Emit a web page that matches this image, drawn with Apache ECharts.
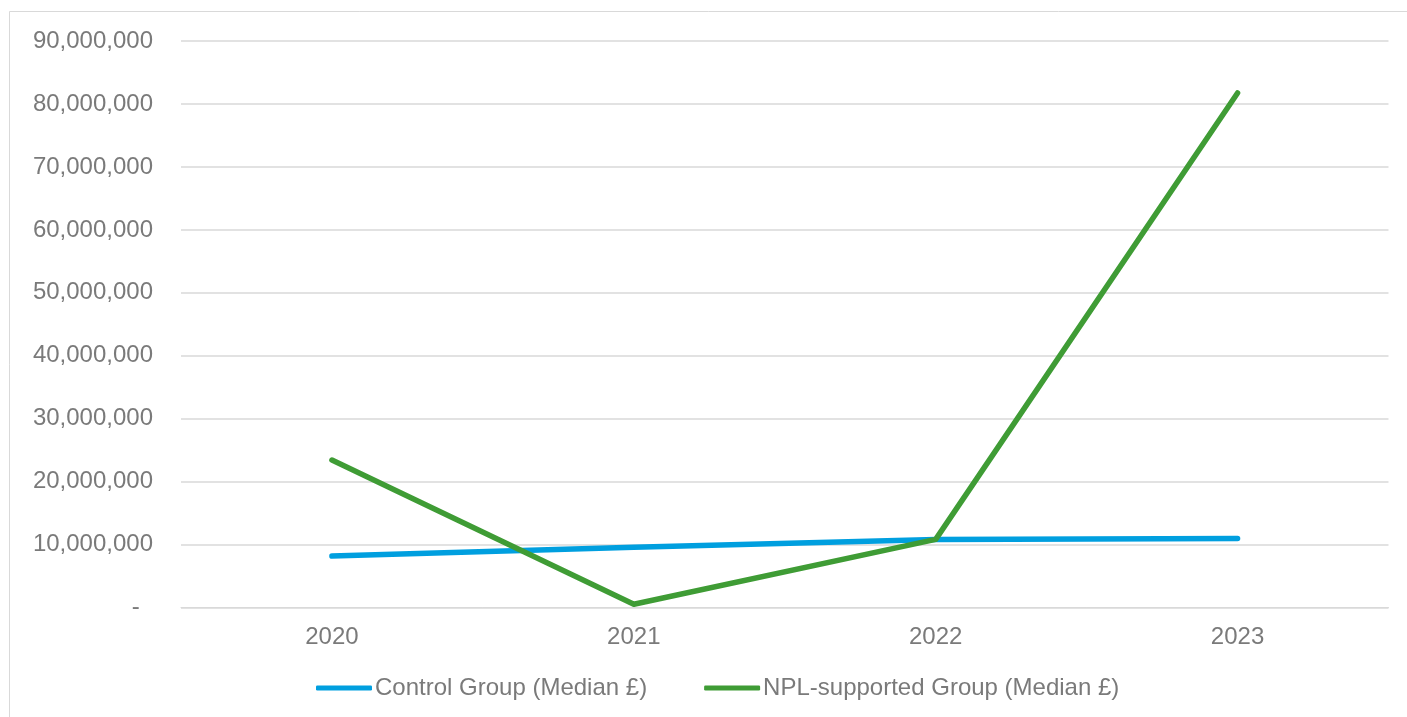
<!DOCTYPE html>
<html>
<head>
<meta charset="utf-8">
<title>Median £ by year</title>
<script src="https://cdn.jsdelivr.net/npm/echarts@6/dist/echarts.min.js"></script>
<style>
  html, body { margin: 0; padding: 0; background: #ffffff; }
  #chart { width: 1407px; height: 717px; }
</style>
</head>
<body>
<div id="chart"></div>
<script>
// Years on the category axis
const years = ['2020', '2021', '2022', '2023'];

// Median values (£) per group
const controlGroup = [8200000, 9600000, 10850000, 10980000];
const nplGroup = [23450000, 550000, 10850000, 81750000];

// Series names shown in the legend
const seriesNames = ['Control Group (Median £)', 'NPL-supported Group (Median £)'];

const FONT = "'Liberation Sans', Arial, sans-serif";
const TEXT_COLOR = '#7a7a7a';
const GRID_COLOR = '#d9d9d9';

function formatThousands(v) {
  if (v === 0) return '-  ';
  return String(v).replace(/\B(?=(\d{3})+(?!\d))/g, ',');
}

const chart = echarts.init(document.getElementById('chart'), null, { renderer: 'canvas' });

chart.setOption({
  animation: false,
  backgroundColor: '#ffffff',
  graphic: [{
    type: 'rect',
    shape: { x: 9.5, y: 11.5, width: 1420, height: 720 },
    style: { fill: 'none', stroke: GRID_COLOR, lineWidth: 1 },
    silent: true,
    z: -1
  }],
  grid: { left: 181, right: 18.5, top: 41, bottom: 109.3, containLabel: false },
  legend: {
    left: 316,
    top: 676,
    padding: 0,
    itemWidth: 56,
    itemHeight: 5,
    itemGap: 57,
    textStyle: { fontFamily: FONT, fontSize: 24, color: TEXT_COLOR, padding: [0, 0, 0, -2] },
    data: seriesNames.map(n => ({ name: n, icon: 'roundRect' }))
  },
  xAxis: {
    type: 'category',
    data: years,
    boundaryGap: true,
    axisLine: { show: true, lineStyle: { color: GRID_COLOR, width: 1 } },
    axisTick: { show: false },
    axisLabel: { fontFamily: FONT, fontSize: 24, color: TEXT_COLOR, margin: 18 },
    splitLine: { show: false }
  },
  yAxis: {
    type: 'value',
    min: 0,
    max: 90000000,
    interval: 10000000,
    axisLine: { show: false },
    axisTick: { show: false },
    axisLabel: {
      fontFamily: FONT, fontSize: 24, color: TEXT_COLOR, margin: 28,
      formatter: formatThousands
    },
    splitLine: { show: true, lineStyle: { color: GRID_COLOR, width: 1.5 } }
  },
  series: [
    {
      name: seriesNames[0],
      type: 'line',
      data: controlGroup,
      symbol: 'none',
      lineStyle: { color: '#009fdf', width: 5.5, cap: 'round', join: 'round' },
      itemStyle: { color: '#009fdf' }
    },
    {
      name: seriesNames[1],
      type: 'line',
      data: nplGroup,
      symbol: 'none',
      lineStyle: { color: '#3f9c35', width: 5.5, cap: 'round', join: 'round' },
      itemStyle: { color: '#3f9c35' }
    }
  ]
});
</script>
</body>
</html>
